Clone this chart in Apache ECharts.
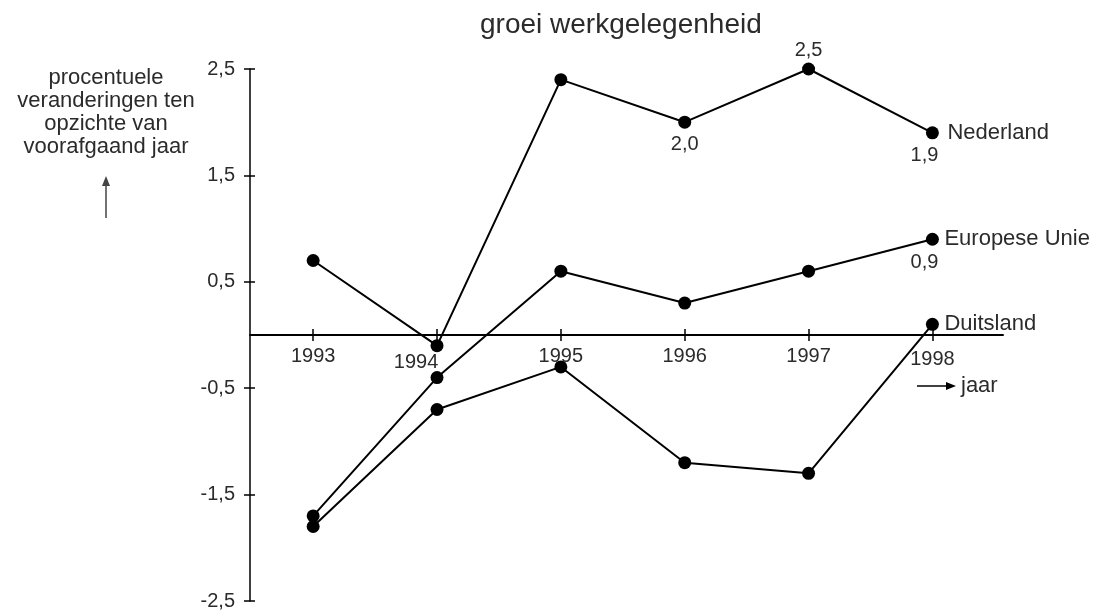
<!DOCTYPE html>
<html>
<head>
<meta charset="UTF-8">
<script src="https://cdn.jsdelivr.net/npm/echarts@6/dist/echarts.min.js"></script>
<style>
  html, body { margin: 0; padding: 0; background: #fff; }
  #main { width: 1097px; height: 611px; }
</style>
<title>groei werkgelegenheid</title>
</head>
<body>
<div id="main"></div>
<script type="text/javascript">
  // jaren en procentuele veranderingen
  var years = [1993, 1994, 1995, 1996, 1997, 1998];
  var nederland = [0.7, -0.1, 2.4, 2.0, 2.5, 1.9];
  var europeseUnie = [-1.7, -0.4, 0.6, 0.3, 0.6, 0.9];
  var duitsland = [-1.8, -0.7, -0.3, -1.2, -1.3, 0.1];
  var yTicks = [-2.5, -1.5, -0.5, 0.5, 1.5, 2.5];

  var FONT = '"Liberation Sans", Arial, sans-serif';
  var TXT = '#2b2b2b';
  var XMIN = 1992.49, XMAX = 1998.57;

  function komma(v) {
    return v.toFixed(1).replace('.', ',');
  }

  // welke punten een waardelabel krijgen
  function makeData(values, labelled) {
    return values.map(function (v, i) {
      var item = { value: [years[i], v] };
      if (labelled[i]) {
        item.label = Object.assign({
          show: true,
          formatter: komma(v),
          fontSize: 20,
          fontFamily: FONT,
          color: TXT,
          distance: 6
        }, labelled[i]);
      }
      return item;
    });
  }

  function lineSeries(name, values, labelled, nameGap) {
    return {
      name: name,
      type: 'line',
      xAxisIndex: 0,
      yAxisIndex: 0,
      data: makeData(values, labelled),
      symbol: 'circle',
      symbolSize: 13,
      lineStyle: { color: '#000', width: 2 },
      itemStyle: { color: '#000' },
      label: { show: false },
      endLabel: {
        show: true,
        formatter: '{a}',
        fontSize: 22,
        fontFamily: FONT,
        color: TXT,
        distance: nameGap
      },
      animation: false,
      z: 3
    };
  }

  var hidden = { show: false };
  var plotGrid = { left: 250, right: 94, top: 69, bottom: 10, outerBoundsMode: 'none' };
  // de x-as ligt op de nullijn: eigen grid dat eindigt bij y = 0
  var zeroGrid = { left: 250, right: 94, top: 69, height: 266, outerBoundsMode: 'none' };

  var myChart = echarts.init(document.getElementById('main'));

  var option = {
    backgroundColor: '#fff',
    title: {
      text: 'groei werkgelegenheid',
      left: 480,
      top: 11,
      padding: 0,
      textStyle: { fontSize: 28, fontWeight: 'normal', fontFamily: FONT, color: TXT }
    },
    grid: [plotGrid, plotGrid, zeroGrid, zeroGrid],
    xAxis: [
      { gridIndex: 0, type: 'value', min: XMIN, max: XMAX, show: false },
      { gridIndex: 1, type: 'value', min: XMIN, max: XMAX, show: false },
      {
        gridIndex: 2, type: 'value', min: XMIN, max: XMAX,
        splitLine: hidden,
        axisLine: { onZero: false, lineStyle: { color: '#000', width: 2 } },
        axisTick: { customValues: years, length: 6, lineStyle: { color: '#000', width: 1.5 } },
        axisLabel: {
          customValues: years,
          margin: 11,
          fontSize: 20,
          fontFamily: FONT,
          color: TXT,
          formatter: function (v) {
            if (v === 1994) return '{l94|1994}';
            if (v === 1998) return '{l98|1998}';
            return String(v);
          },
          rich: {
            l94: { fontSize: 20, fontFamily: FONT, color: TXT, padding: [6, 42, 0, 0] },
            l98: { fontSize: 20, fontFamily: FONT, color: TXT, padding: [3, 0, 0, 0] }
          }
        }
      },
      {
        gridIndex: 3, type: 'value', min: XMIN, max: XMAX,
        splitLine: hidden,
        axisLine: { show: false, onZero: false },
        axisTick: { customValues: years, inside: true, length: 6, lineStyle: { color: '#000', width: 1.5 } },
        axisLabel: hidden
      }
    ],
    yAxis: [
      {
        gridIndex: 0, type: 'value', min: -2.5, max: 2.5,
        splitLine: hidden,
        axisLine: { show: true, onZero: false, lineStyle: { color: '#000', width: 1.5 } },
        axisTick: { customValues: yTicks, length: 6, lineStyle: { color: '#000', width: 1.5 } },
        axisLabel: {
          customValues: yTicks,
          margin: 15,
          fontSize: 20,
          fontFamily: FONT,
          color: TXT,
          formatter: function (v) { return komma(v); }
        }
      },
      {
        gridIndex: 1, type: 'value', min: -2.5, max: 2.5,
        splitLine: hidden,
        axisLine: { show: false, onZero: false },
        axisTick: { customValues: yTicks, inside: true, length: 5, lineStyle: { color: '#000', width: 1.5 } },
        axisLabel: hidden
      },
      { gridIndex: 2, type: 'value', show: false },
      { gridIndex: 3, type: 'value', show: false }
    ],
    series: [
      lineSeries('Nederland', nederland, [null, null, null,
        { position: 'bottom' }, { position: 'top', distance: 2 }, { position: 'bottom', offset: [-8, 0] }], 15),
      lineSeries('Europese Unie', europeseUnie, [null, null, null, null, null,
        { position: 'bottom', offset: [-8, 1] }], 12),
      lineSeries('Duitsland', duitsland, [null, null, null, null, null, null], 12)
    ],
    graphic: [
      {
        type: 'text',
        style: {
          text: 'procentuele\nveranderingen ten\nopzichte van\nvoorafgaand jaar',
          x: 106,
          y: 66,
          align: 'center',
          verticalAlign: 'top',
          fontSize: 22,
          lineHeight: 23,
          fontFamily: FONT,
          fill: TXT
        }
      },
      {
        type: 'line',
        shape: { x1: 106, y1: 218, x2: 106, y2: 184 },
        style: { stroke: '#444', lineWidth: 1.5 }
      },
      {
        type: 'polygon',
        shape: { points: [[102, 186], [110, 186], [106, 176]] },
        style: { fill: '#444' }
      },
      {
        type: 'line',
        shape: { x1: 917, y1: 386, x2: 948, y2: 386 },
        style: { stroke: '#000', lineWidth: 1.5 }
      },
      {
        type: 'polygon',
        shape: { points: [[946, 382], [946, 390], [956, 386]] },
        style: { fill: '#000' }
      },
      {
        type: 'text',
        style: {
          text: 'jaar',
          x: 961,
          y: 386,
          verticalAlign: 'middle',
          fontSize: 22,
          fontFamily: FONT,
          fill: TXT
        }
      }
    ]
  };
  myChart.setOption(option);
</script>
</body>
</html>
